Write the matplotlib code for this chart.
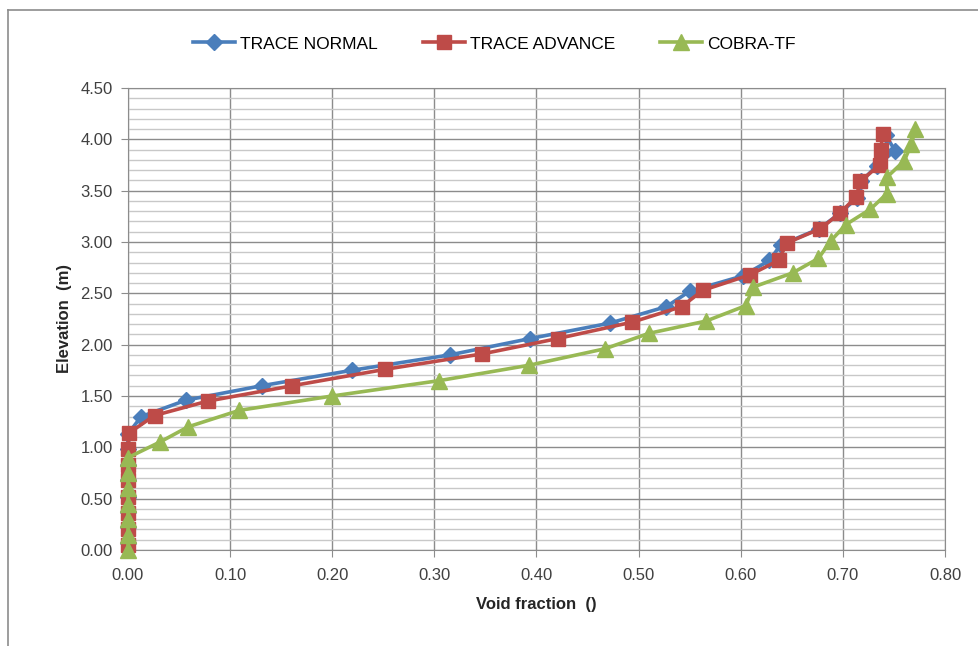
import matplotlib.pyplot as plt
from matplotlib.ticker import MultipleLocator, FormatStrFormatter
from matplotlib.lines import Line2D

plt.rcParams['font.family'] = ['Liberation Sans', 'DejaVu Sans']

# TRACE NORMAL
normal_x = [0.0, 0.0, 0.0, 0.0, 0.0, 0.0, 0.0, 0.0, 0.013, 0.057, 0.131, 0.219, 0.315,
            0.394, 0.472, 0.527, 0.550, 0.602, 0.628, 0.639, 0.677, 0.697, 0.714, 0.718,
            0.733, 0.751, 0.742]
normal_y = [0.07, 0.22, 0.37, 0.52, 0.68, 0.83, 0.98, 1.13, 1.30, 1.46, 1.60, 1.75, 1.90,
            2.06, 2.21, 2.37, 2.52, 2.67, 2.82, 2.97, 3.13, 3.28, 3.43, 3.59,
            3.74, 3.89, 4.04]

# TRACE ADVANCE
advance_x = [0.0, 0.0, 0.0, 0.0, 0.0, 0.0, 0.0, 0.001, 0.026, 0.078, 0.161, 0.252, 0.347,
             0.421, 0.494, 0.542, 0.563, 0.609, 0.637, 0.645, 0.678, 0.697, 0.713, 0.717,
             0.736, 0.737, 0.739]
advance_y = [0.05, 0.20, 0.36, 0.52, 0.68, 0.83, 0.98, 1.14, 1.31, 1.45, 1.60, 1.76, 1.91,
             2.06, 2.22, 2.37, 2.53, 2.68, 2.82, 2.99, 3.13, 3.28, 3.44, 3.59,
             3.75, 3.90, 4.05]

# COBRA-TF
cobra_x = [0.0, 0.0, 0.0, 0.0, 0.0, 0.0, 0.0, 0.031, 0.059, 0.109, 0.200, 0.305, 0.393,
           0.467, 0.510, 0.566, 0.605, 0.612, 0.651, 0.676, 0.688, 0.703, 0.727, 0.743,
           0.743, 0.760, 0.767, 0.771]
cobra_y = [0.0, 0.15, 0.30, 0.45, 0.60, 0.75, 0.90, 1.05, 1.20, 1.36, 1.50, 1.65, 1.80,
           1.96, 2.11, 2.23, 2.38, 2.56, 2.70, 2.84, 3.01, 3.17, 3.32, 3.47,
           3.63, 3.79, 3.95, 4.10]

blue = '#4A7EBB'
red = '#BE4B48'
green = '#98B954'

fig = plt.figure(figsize=(9.79, 6.46), dpi=100)
ax = fig.add_axes([0.1307, 0.1486, 0.8346, 0.7152])

ax.plot(normal_x, normal_y, color=blue, lw=2.6, marker='D', ms=8, zorder=3, clip_on=False)
ax.plot(advance_x, advance_y, color=red, lw=2.6, marker='s', ms=10.5, zorder=4, clip_on=False)
ax.plot(cobra_x, cobra_y, color=green, lw=2.6, marker='^', ms=11, zorder=5, clip_on=False)

ax.set_xlim(0, 0.8)
ax.set_ylim(0, 4.5)
ax.xaxis.set_major_locator(MultipleLocator(0.1))
ax.yaxis.set_major_locator(MultipleLocator(0.5))
ax.yaxis.set_minor_locator(MultipleLocator(0.1))
ax.xaxis.set_major_formatter(FormatStrFormatter('%.2f'))
ax.yaxis.set_major_formatter(FormatStrFormatter('%.2f'))

ax.grid(which='major', color='#8C8C8C', lw=1.0, zorder=0)
ax.grid(which='minor', axis='y', color='#C8C8C8', lw=1.0, zorder=0)
ax.set_axisbelow(True)
for s in ax.spines.values():
    s.set_color('#8C8C8C')
ax.tick_params(axis='both', which='major', colors='#8C8C8C', labelcolor='#404040',
               length=5, labelsize=12)
ax.tick_params(axis='y', which='minor', length=0)
ax.tick_params(axis='x', pad=8)
ax.tick_params(axis='y', pad=6)

ax.set_xlabel('Void fraction  ()', fontsize=12, fontweight='bold', color='#262626', labelpad=10)
ax.set_ylabel('Elevation  (m)', fontsize=12, fontweight='bold', color='#262626', labelpad=6)

handles = [Line2D([], [], color=blue, lw=2.6, marker='D', ms=8),
           Line2D([], [], color=red, lw=2.6, marker='s', ms=10.5),
           Line2D([], [], color=green, lw=2.6, marker='^', ms=11)]
fig.legend(handles, ['TRACE NORMAL', 'TRACE ADVANCE', 'COBRA-TF'], loc='center',
           bbox_to_anchor=(0.505, 0.932), ncol=3, frameon=False, fontsize=12.5,
           handlelength=2.4, handletextpad=0.3, columnspacing=2.6)

# outer chart frame
fig.add_artist(Line2D([0.008, 1.0], [0.985, 0.985], color='#8C8C8C', lw=1.2))
fig.add_artist(Line2D([0.008, 0.008], [0.0, 0.985], color='#8C8C8C', lw=1.2))

fig.savefig('out.png', dpi=100)
